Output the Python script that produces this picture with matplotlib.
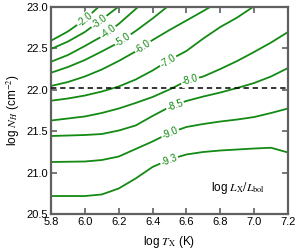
import matplotlib
matplotlib.use("Agg")
import matplotlib.pyplot as plt
import numpy as np

plt.rcParams['font.family'] = ['Liberation Sans', 'DejaVu Sans']
plt.rcParams['mathtext.fontset'] = 'stix'

# contour levels of log Lx/Lbol, traced as (log T, log N_H)
levels = [-2.0, -3.0, -4.0, -5.0, -6.0, -7.0, -8.0, -8.5, -9.0, -9.3]

logT_m20 = [5.8, 5.9, 6.0, 6.08]
logN_m20 = [22.593, 22.705, 22.849, 23.0]

logT_m30 = [5.8, 5.9, 6.0, 6.1, 6.196]
logN_m30 = [22.493, 22.583, 22.698, 22.849, 23.0]

logT_m40 = [5.8, 5.9, 6.0, 6.1, 6.2, 6.314]
logN_m40 = [22.339, 22.420, 22.529, 22.644, 22.795, 23.0]

logT_m50 = [5.8, 5.9, 6.0, 6.1, 6.2, 6.3, 6.4, 6.485]
logN_m50 = [22.206, 22.275, 22.360, 22.463, 22.571, 22.710, 22.861, 23.0]

logT_m60 = [5.8, 5.9, 6.0, 6.1, 6.2, 6.3, 6.4, 6.5, 6.6, 6.7, 6.74]
logN_m60 = [22.046, 22.094, 22.161, 22.245, 22.348, 22.463, 22.601, 22.722, 22.837, 22.952, 23.0]

logT_m70 = [5.8, 5.9, 6.0, 6.1, 6.2, 6.3, 6.4, 6.5, 6.6, 6.7, 6.8, 6.9, 6.993]
logN_m70 = [21.868, 21.895, 21.931, 21.979, 22.040, 22.124, 22.233, 22.360, 22.469, 22.620, 22.758, 22.873, 23.0]

logT_m80 = [5.8, 6.0, 6.1, 6.2, 6.3, 6.4, 6.5, 6.6, 6.7, 6.8, 6.9, 7.0, 7.1, 7.2]
logN_m80 = [21.629, 21.678, 21.720, 21.774, 21.841, 21.913, 22.004, 22.106, 22.161, 22.251, 22.348, 22.457, 22.571, 22.698]

logT_m85 = [5.8, 6.0, 6.1, 6.2, 6.3, 6.4, 6.5, 6.6, 6.7, 6.8, 6.9, 7.0, 7.1, 7.2]
logN_m85 = [21.442, 21.454, 21.466, 21.508, 21.569, 21.684, 21.792, 21.865, 21.919, 21.967, 22.022, 22.082, 22.161, 22.263]

logT_m90 = [5.8, 6.0, 6.1, 6.2, 6.3, 6.4, 6.5, 6.6, 6.7, 6.8, 6.9, 7.0, 7.1, 7.2]
logN_m90 = [21.128, 21.134, 21.152, 21.194, 21.285, 21.376, 21.478, 21.551, 21.587, 21.617, 21.641, 21.671, 21.720, 21.774]

logT_m93 = [5.8, 6.0, 6.1, 6.2, 6.3, 6.4, 6.5, 6.6, 6.7, 6.8, 6.9, 7.0, 7.1, 7.2]
logN_m93 = [20.717, 20.717, 20.736, 20.808, 20.929, 21.068, 21.158, 21.219, 21.249, 21.267, 21.279, 21.291, 21.300, 21.243]

# log T at which each contour carries its label
label_logT = [6.0, 6.084, 6.137, 6.225, 6.343, 6.491, 6.621, 6.532, 6.503, 6.497]

logN_split = 22.02

xticks = [5.8, 6.0, 6.2, 6.4, 6.6, 6.8, 7.0, 7.2]
yticks = [20.5, 21.0, 21.5, 22.0, 22.5, 23.0]

curves = [(logT_m20, logN_m20), (logT_m30, logN_m30), (logT_m40, logN_m40),
          (logT_m50, logN_m50), (logT_m60, logN_m60), (logT_m70, logN_m70),
          (logT_m80, logN_m80), (logT_m85, logN_m85), (logT_m90, logN_m90),
          (logT_m93, logN_m93)]

fig = plt.figure(figsize=(3.0, 2.5), dpi=100)
ax = fig.add_axes([0.17, 0.144, 0.79, 0.828])
ax.set_xlim(5.8, 7.2)
ax.set_ylim(20.5, 23.0)

green = '#138a13'
for (t, n) in curves:
    ax.plot(t, n, color=green, lw=1.3, solid_capstyle='butt', zorder=2)

ax.axhline(logN_split, color='black', lw=1.1, ls=(0, (3.5, 2.5)), zorder=3)

fig.canvas.draw()
for lev, (t, n), lt in zip(levels, curves, label_logT):
    t = np.asarray(t); n = np.asarray(n)
    ln = np.interp(lt, t, n)
    p0 = ax.transData.transform((lt - 0.02, np.interp(lt - 0.02, t, n)))
    p1 = ax.transData.transform((lt + 0.02, np.interp(lt + 0.02, t, n)))
    ang = np.degrees(np.arctan2(p1[1] - p0[1], p1[0] - p0[0]))
    ax.text(lt, ln, f"{lev:.1f}", color=green, fontsize=7, rotation=ang,
            rotation_mode='anchor', ha='center', va='center', zorder=4,
            bbox=dict(facecolor='white', edgecolor='none', pad=0.8))

ax.text(0.905, 0.125, r"log $L_{\rm X}/L_{\rm bol}$", transform=ax.transAxes,
        ha='right', va='center', fontsize=8.5)

ax.set_xticks(xticks)
ax.set_yticks(yticks)
ax.set_xticklabels([f"{v:.1f}" for v in xticks])
ax.set_yticklabels([f"{v:.1f}" for v in yticks])
ax.tick_params(direction='in', top=True, right=True, length=4, width=1.2,
               color='#606060', labelsize=8, pad=2)
for s in ax.spines.values():
    s.set_color('#606060')
    s.set_linewidth(1.6)

ax.set_xlabel(r"log $T_{\rm X}$ (K)", fontsize=8.5, labelpad=5)
ax.set_ylabel(r"log $N_H$ (cm$^{-2}$)", fontsize=8.5, labelpad=3)

fig.savefig("out.png", dpi=100)
